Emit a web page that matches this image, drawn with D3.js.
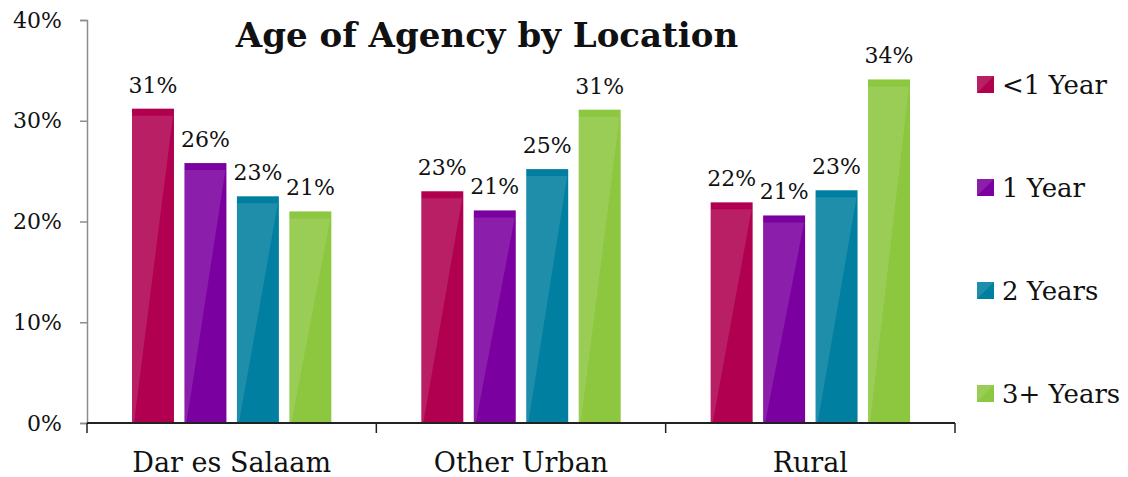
<!DOCTYPE html>
<html>
<head>
<meta charset="utf-8">
<script src="https://cdn.jsdelivr.net/npm/d3@7"></script>
<style>
  body { margin: 0; background: #fff; }
  text { font-family: "DejaVu Serif", Georgia, serif; fill: #111; }
</style>
</head>
<body>
<div class="chart"></div>
<script>
// data
const locations = ["Dar es Salaam", "Other Urban", "Rural"]
const ageGroups = ["<1 Year", "1 Year", "2 Years", "3+ Years"]
const lessThanOneYear = [31.2, 23.0, 21.9]
const oneYear = [25.8, 21.1, 20.6]
const twoYears = [22.5, 25.2, 23.1]
const threePlusYears = [21.0, 31.1, 34.1]
const yTicks = [0, 10, 20, 30, 40]
const colors = ["#B0004F", "#7B00A0", "#007FA0", "#8DC63F"]

const series = [lessThanOneYear, oneYear, twoYears, threePlusYears]

const svg = d3.select(".chart").append("svg").attr("width", 1128).attr("height", 477)
const margin = {top: 20, right: 173, bottom: 54, left: 87}
const width = 1128 - margin.left - margin.right
const height = 477 - margin.top - margin.bottom

const g = svg.append("g").attr("transform", `translate(${margin.left},${margin.top})`)

// scales
const y = d3.scaleLinear().domain([0, 40]).range([height, 0])
const x0 = d3.scaleBand().domain(locations).range([0, width])
const x1 = d3.scaleBand().domain(ageGroups).range([45, x0.bandwidth() - 45]).paddingInner(0.2)
const color = d3.scaleOrdinal().domain(ageGroups).range(colors)

// y axis
const yAxis = g.append("g").call(d3.axisLeft(y).tickValues(yTicks).tickSize(7).tickPadding(18)
    .tickFormat(d => d + "%"))
yAxis.select(".domain").attr("stroke", "#8c8c8c").attr("stroke-width", 1.5)
yAxis.selectAll(".tick line").attr("stroke", "#8c8c8c").attr("stroke-width", 1.5)
yAxis.selectAll("text").style("font-size", "22px").attr("fill", "#111")

// bars
const rows = []
locations.forEach((loc, i) => {
    ageGroups.forEach((age, j) => {
        rows.push({loc: loc, age: age, value: series[j][i]})
    })
})

const bar = g.selectAll(".bar").data(rows).enter().append("g").attr("class", "bar")
    .attr("transform", d => `translate(${x0(d.loc) + x1(d.age)},0)`)

bar.append("rect")
    .attr("x", 0).attr("y", d => y(d.value))
    .attr("width", x1.bandwidth()).attr("height", d => height - y(d.value))
    .attr("fill", d => color(d.age))

// light diagonal shine on each bar
bar.append("path")
    .attr("d", d => {
        const w = x1.bandwidth(), top = y(d.value) + 7
        return `M0,${top} L${w - 1},${top} L2,${height} L0,${height} Z`
    })
    .attr("fill", "#fff").attr("opacity", 0.12)

// value labels
bar.append("text")
    .attr("x", x1.bandwidth() / 2).attr("y", d => y(d.value) - 16)
    .attr("text-anchor", "middle")
    .style("font-size", "22px")
    .text(d => Math.round(d.value) + "%")

// x axis
const xAxis = g.append("g").attr("transform", `translate(0,${height})`)
xAxis.append("line").attr("x1", 0).attr("x2", width).attr("y1", 0).attr("y2", 0)
    .attr("stroke", "#222").attr("stroke-width", 2)
xAxis.selectAll(".xtick").data(locations.concat([null])).enter().append("line")
    .attr("x1", d => d === null ? width : x0(d)).attr("x2", d => d === null ? width : x0(d))
    .attr("y1", 0).attr("y2", 10)
    .attr("stroke", "#222").attr("stroke-width", 1.5)
xAxis.selectAll(".xlabel").data(locations).enter().append("text")
    .attr("x", d => x0(d) + x0.bandwidth() / 2).attr("y", 49)
    .attr("text-anchor", "middle")
    .style("font-size", "27px")
    .text(d => d)

// title
svg.append("text").attr("x", 487).attr("y", 47).attr("text-anchor", "middle")
    .style("font-size", "34px").attr("font-weight", "bold")
    .text("Age of Agency by Location")

// legend
const legendY = d3.scalePoint().domain(ageGroups).range([85, 394])
const legend = svg.selectAll(".legend").data(ageGroups).enter().append("g").attr("class", "legend")
    .attr("transform", d => `translate(977,${legendY(d)})`)
legend.append("rect").attr("x", 0).attr("y", -9).attr("width", 17).attr("height", 17)
    .attr("fill", d => color(d))
legend.append("path").attr("d", "M0,-9 L17,-9 L0,8 Z").attr("fill", "#fff").attr("opacity", 0.12)
legend.append("text").attr("x", 25).attr("y", 9)
    .style("font-size", "26px")
    .text(d => d)
</script>
</body>
</html>
